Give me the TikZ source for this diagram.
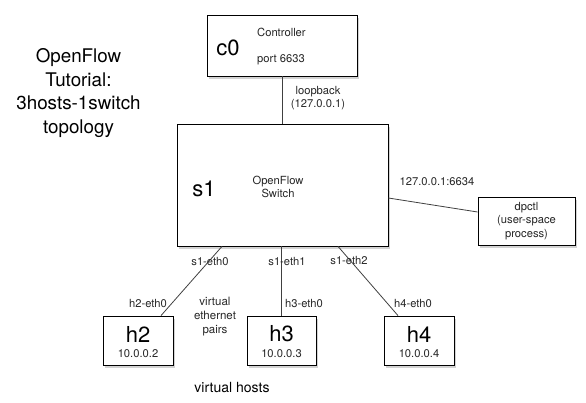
\documentclass[tikz,border=0pt]{standalone}
\usepackage{fontspec}
\setmainfont{TeX Gyre Heros}
\usetikzlibrary{shadows, calc}
\tikzset{
  box/.style={
    rectangle, draw=black, line width=0.8pt, fill=white,
    drop shadow={shadow xshift=2pt, shadow yshift=-2.5pt, opacity=0.35},
    inner sep=0pt
  },
  big/.style  = {font=\fontsize{22}{24}\selectfont, inner sep=0pt},
  txt/.style  = {font=\fontsize{11.2}{13.5}\selectfont, align=center, inner sep=0pt, text=black!85},
  link/.style = {line width=0.8pt, draw=black!75},
}

\begin{document}
\begin{tikzpicture}[x=1pt, y=-1pt]
\useasboundingbox (0,0) rectangle (586,402);

%% ── Title ───────────────────────────────────────────────────────────────────
\node[font=\fontsize{18.8}{23.5}\selectfont, align=center, inner sep=0pt] (title) at (78.5,93)
  {OpenFlow\\Tutorial:\\3hosts-1switch\\topology};

%% ── Boxes ───────────────────────────────────────────────────────────────────
\node[box, minimum width=150pt, minimum height=61pt]  (c0)    at (282,45.5)    {};
\node[box, minimum width=211pt, minimum height=122pt] (s1)    at (282.5,185)   {};
\node[box, minimum width=97pt,  minimum height=48pt]  (dpctl) at (526.5,221)   {};
\node[box, minimum width=70pt,  minimum height=49pt]  (h2)    at (138,340.5)   {};
\node[box, minimum width=69pt,  minimum height=49pt]  (h3)    at (281.5,340.5) {};
\node[box, minimum width=70pt,  minimum height=49pt]  (h4)    at (419,340.5)   {};

%% ── Box texts ───────────────────────────────────────────────────────────────
\node[big] (c0name) at (228,48) {c0};
\node[txt, anchor=west] (ctrl) at (257,32) {Controller};
\node[txt, anchor=west] (port) at (257,60) {port 6633};

\node[big] (s1name) at (204,189) {s1};
\node[txt] (sw) at (278,187) {OpenFlow\\Switch};

\node[txt] (dptxt) at (526.5,221) {dpctl\\(user-space\\process)};

\node[big] (h2name) at (138,334) {h2};
\node[txt] (h2ip)   at (138,354) {10.0.0.2};
\node[big] (h3name) at (281.5,334) {h3};
\node[txt] (h3ip)   at (281.5,354) {10.0.0.3};
\node[big] (h4name) at (419,334) {h4};
\node[txt] (h4ip)   at (419,354) {10.0.0.4};

%% ── Links ───────────────────────────────────────────────────────────────────
\draw[link] (c0.south) -- (c0.south |- s1.north);
\draw[link] ($(s1.east)+(0,13)$) -- ($(dpctl.west)+(0,-9)$);
\draw[link] ($(h2.north)+(23,0)$) -- ($(s1.south)+(-60.5,0)$);
\draw[link] (h3.north) -- (h3.north |- s1.south);
\draw[link] ($(h4.north)+(-21,0)$) -- ($(s1.south)+(55.5,0)$);

%% ── Link labels ─────────────────────────────────────────────────────────────
\node[txt] (lo)   at (318,98)  {loopback\\(127.0.0.1)};
\node[txt] (dpip) at (437,182) {127.0.0.1:6634};
\node[txt] (e0)   at (210,261) {s1-eth0};
\node[txt] (e1)   at (287,261) {s1-eth1};
\node[txt] (e2)   at (349,260) {s1-eth2};
\node[txt] (h2e)  at (148,303) {h2-eth0};
\node[txt] (h3e)  at (304,303) {h3-eth0};
\node[txt] (h4e)  at (413,303) {h4-eth0};
\node[txt, font=\fontsize{11.5}{14}\selectfont] (veth) at (215,317) {virtual\\ethernet\\pairs};
\node[font=\fontsize{14}{16}\selectfont, inner sep=0pt] (vhosts) at (232,387) {virtual hosts};

\end{tikzpicture}
\end{document}
